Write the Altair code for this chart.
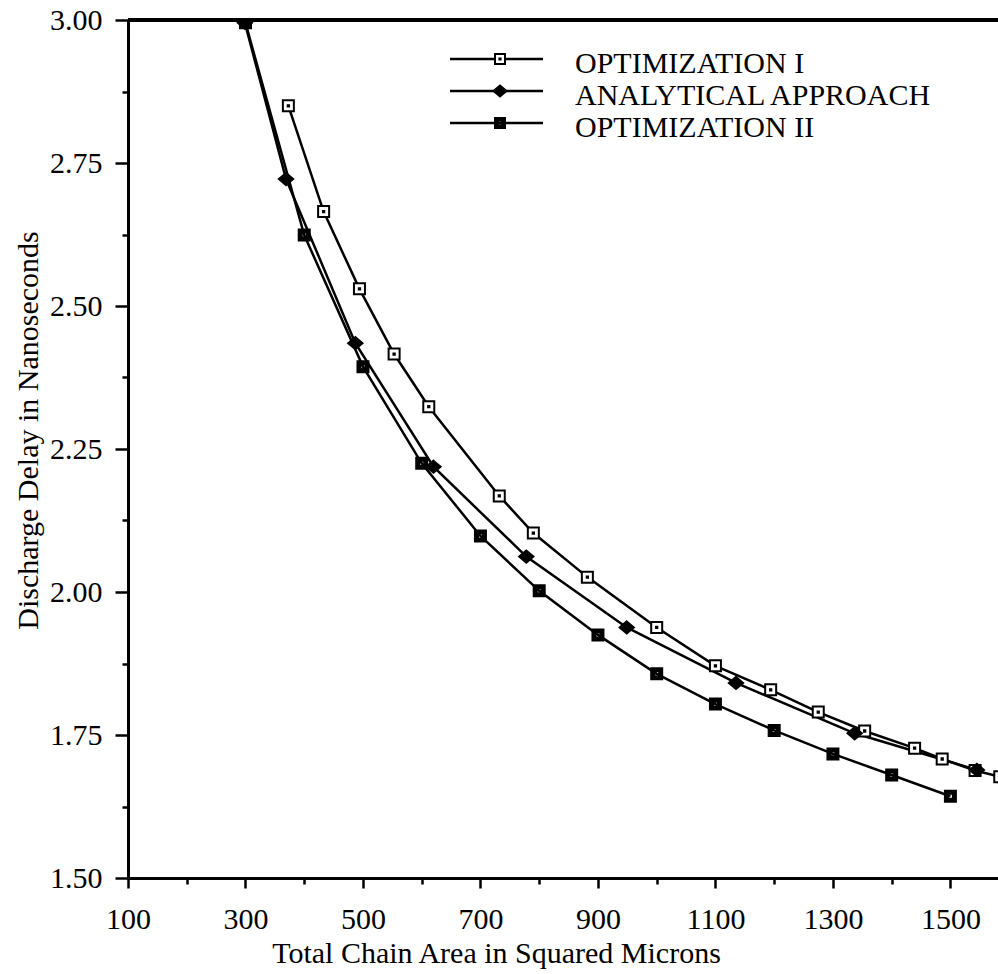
import altair as alt
import pandas as pd

series_names = ["OPTIMIZATION I", "ANALYTICAL APPROACH", "OPTIMIZATION II"]

opt1_x = [373, 433, 494, 553, 612, 732, 790, 882, 1000, 1100, 1194, 1275, 1354, 1439, 1486, 1542, 1584]
opt1_y = [2.850, 2.665, 2.530, 2.416, 2.324, 2.168, 2.103, 2.026, 1.938, 1.871, 1.829, 1.790, 1.757, 1.727, 1.708, 1.688, 1.677]

anal_x = [299, 369, 487, 620, 778, 949, 1135, 1337, 1545]
anal_y = [2.995, 2.722, 2.435, 2.219, 2.062, 1.938, 1.841, 1.753, 1.689]

opt2_x = [300, 400, 500, 600, 700, 800, 900, 1000, 1100, 1200, 1300, 1400, 1500]
opt2_y = [2.995, 2.624, 2.394, 2.225, 2.098, 2.002, 1.925, 1.857, 1.804, 1.758, 1.717, 1.680, 1.643]

x_ticks = [100, 200, 300, 400, 500, 600, 700, 800, 900, 1000, 1100, 1200, 1300, 1400, 1500]
y_ticks = [1.5, 1.625, 1.75, 1.875, 2.0, 2.125, 2.25, 2.375, 2.5, 2.625, 2.75, 2.875, 3.0]

rows = []
for name, xs, ys in [(series_names[0], opt1_x, opt1_y),
                     (series_names[1], anal_x, anal_y),
                     (series_names[2], opt2_x, opt2_y)]:
    for i, (a, d) in enumerate(zip(xs, ys)):
        rows.append({"series": name, "area": a, "delay": d, "idx": i})
df = pd.DataFrame(rows)
legend_df = pd.DataFrame({"series": series_names})

FONT = "Liberation Serif"

sq_open = "M-1,-1H1V1H-1Z M-0.12,-0.12H0.12V0.12H-0.12Z"
diamond = "M0,-1.1L1.3,0L0,1.1L-1.3,0Z"
sq_fill = "M-1,-1H1V1H-1Z M-0.45,-0.45V0.45H0.45V-0.45Z"
marker_paths = [sq_open, diamond, sq_fill]
fills = ["white", "black", "black"]

shape_scale = alt.Scale(domain=series_names, range=marker_paths)
fill_scale = alt.Scale(domain=series_names, range=fills)

xdom = [100, 1581]
ydom = [1.5, 3.0]

x_enc = alt.X(
    "area:Q",
    scale=alt.Scale(domain=xdom, nice=False, zero=False),
    axis=alt.Axis(
        values=x_ticks,
        labelExpr="datum.value % 200 == 100 ? format(datum.value, 'd') : ''",
        tickSize={"condition": {"test": "datum.value % 200 == 100", "value": 10}, "value": 6},
        labelPadding=40,
        labelBaseline="alphabetic",
        title="Total Chain Area in Squared Microns",
        titleX=368,
        titleY=84,
        titleBaseline="alphabetic",
        titleAlign="center",
    ),
)
y_enc = alt.Y(
    "delay:Q",
    scale=alt.Scale(domain=ydom, nice=False, zero=False),
    axis=alt.Axis(
        values=y_ticks,
        labelExpr="abs(datum.value*4 - round(datum.value*4)) < 0.001 ? format(datum.value, '.2f') : ''",
        tickSize={"condition": {"test": "abs(datum.value*4 - round(datum.value*4)) < 0.001", "value": 13}, "value": 6},
        labelPadding=13,
        title="Discharge Delay in Nanoseconds",
        titleAngle=270,
        titleX=-91,
        titleY=410,
        titleBaseline="alphabetic",
        titleAlign="center",
    ),
)

base = alt.Chart(df)

lines = base.mark_line(color="black", strokeWidth=2.5, clip=True).encode(
    x=x_enc, y=y_enc, detail="series:N", order="idx:Q"
)

points = base.mark_point(size=121, stroke="black", strokeWidth=2, opacity=1, filled=False, clip=True).encode(
    x=x_enc,
    y=y_enc,
    shape=alt.Shape("series:N", scale=shape_scale, legend=None),
    fill=alt.Fill("series:N", scale=fill_scale, legend=None),
)

top_rule = alt.Chart(df).mark_rule(color="black", strokeWidth=3).encode(y=alt.datum(3.0))

main = alt.layer(top_rule, lines, points)

# legend (drawn as marks, rows placed by a point scale)
ly = alt.Y("series:N", scale=alt.Scale(type="point", domain=series_names, range=[39, 103], padding=0), axis=None)
leg_base = alt.Chart(legend_df)
leg_line = leg_base.mark_rule(color="black", strokeWidth=2.5).encode(
    x=alt.value(322), x2=alt.value(415), y=ly
)
leg_pts = leg_base.mark_point(size=100, stroke="black", strokeWidth=2, opacity=1, filled=False).encode(
    x=alt.value(372),
    y=ly,
    shape=alt.Shape("series:N", scale=shape_scale, legend=None),
    fill=alt.Fill("series:N", scale=fill_scale, legend=None),
)
leg_txt = leg_base.mark_text(align="left", baseline="middle", dy=5, font=FONT, fontSize=30, color="black").encode(
    x=alt.value(447), y=ly, text="series:N"
)
legend = alt.layer(leg_line, leg_pts, leg_txt)

chart = (
    alt.layer(main, legend)
    .resolve_scale(y="independent")
    .properties(
        width=870,
        height=858,
        autosize=alt.AutoSizeParams(type="none"),
        padding={"left": 128, "top": 20, "right": 0, "bottom": 96},
        background="white",
    )
    .configure_view(stroke=None)
    .configure_axis(
        grid=False,
        domainColor="black",
        domainWidth=3,
        tickColor="black",
        tickWidth=2.5,
        labelFont=FONT,
        labelFontSize=30,
        labelColor="black",
        labelFlush=False,
        labelOverlap=False,
        titleFont=FONT,
        titleFontSize=30,
        titleFontWeight="normal",
        titleColor="black",
    )
)

chart.save("out.html", embed_options={"renderer": "svg", "actions": False})
